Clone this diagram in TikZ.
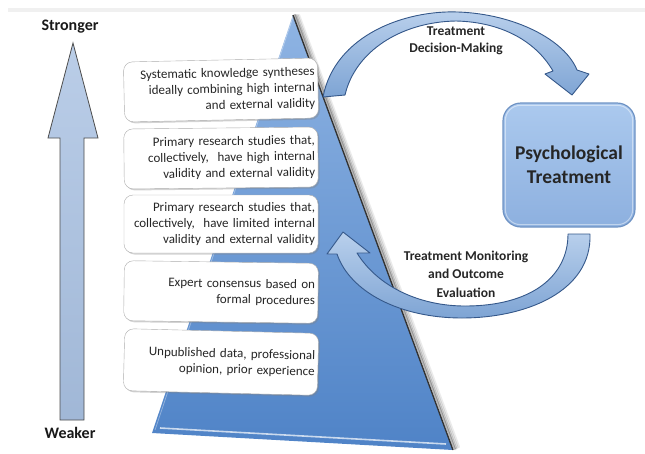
\documentclass[tikz,border=0pt]{standalone}
\usepackage{fontspec}
\setmainfont{Carlito}
\usetikzlibrary{shadows,calc}
\definecolor{pyrtop}{HTML}{8FB4E3}
\definecolor{pyrbot}{HTML}{4F83C7}
\definecolor{arrlight}{HTML}{B9D0EC}
\definecolor{arrdark}{HTML}{7EA4D4}
\definecolor{arredge}{HTML}{35588A}
\definecolor{bigarrow}{HTML}{A9C1E2}
\definecolor{psytop}{HTML}{ABC9EE}
\definecolor{psybot}{HTML}{8DB0DF}
\definecolor{psyedge}{HTML}{6F93C4}
\begin{document}
\begin{tikzpicture}[x=1pt,y=-1pt,
  evbox/.style={draw=gray!65, fill=white, rounded corners=9pt,
    minimum width=194pt, minimum height=60pt, text width=188pt,
    align=right, inner sep=0pt,
    font=\fontsize{13}{16}\selectfont, text=black!85,
    drop shadow={opacity=0.35, shadow xshift=1.5pt, shadow yshift=-1.5pt}},
  lbl/.style={font=\bfseries\fontsize{13.5}{16.5}\selectfont, align=center, text=black!85},
  endlbl/.style={font=\bfseries\fontsize{16}{18}\selectfont, text=black!90},
  psy/.style={draw=psyedge, line width=1.2pt, rounded corners=18pt,
    top color=psytop, bottom color=psybot,
    minimum width=132pt, minimum height=124pt, align=center,
    font=\bfseries\fontsize{19.5}{24}\selectfont, text=black!85},
  blockarrow/.style={draw=arredge, line width=0.9pt, line join=round,
    top color=arrlight, bottom color=arrdark}
]
\useasboundingbox (0,0) rectangle (645,453);

% faint top rule
\fill[gray!12] (8,8) rectangle (645,12);

% strength scale on the left
\node[endlbl] (strong) at (70,27) {Stronger};
\node[endlbl] (weak) at (70,433) {Weaker};
\draw[draw=black!70, line width=0.8pt, top color=bigarrow!80!white,
    bottom color=bigarrow!95!black, line join=miter]
  (60,420) -- (60,138) -- (48,138) -- (73,43) -- (98,138) -- (84,138)
  -- (84,420) -- cycle;

% evidence pyramid: soft shadow on the right edge, then the face
\foreach \o/\a in {6/0.08,4.5/0.12,3/0.18,1.8/0.28}
  \draw[black, opacity=\a, line width=2.2pt, line cap=round]
    ($(293,15)+(\o,0)$) -- ($(453,450)+(\o,-0.5*\o)$);
\shade[top color=pyrtop, bottom color=pyrbot]
  (293,15) -- (453,450) -- (152,433) -- cycle;
\draw[black!80, line width=1.4pt] (293,15) -- (453,450);
\draw[white, opacity=0.7, line width=1.6pt] (160,428) -- (446,444);
\draw[white, opacity=0.35, line width=0.8pt] (293,17) -- (155,430);

% evidence levels, strongest at the top
\node[evbox, rotate=1.2] (e1) at (221,90)
  {Systematic knowledge syntheses\\ideally combining high internal\\and external validity};
\node[evbox, rotate=0.6] (e2) at (221,158)
  {Primary research studies that,\\collectively,\ \ have high internal\\validity and external validity};
\node[evbox, minimum height=58pt] (e3) at (221,224)
  {Primary research studies that,\\collectively,\ \ have limited internal\\validity and external validity};
\node[evbox, rotate=-0.8] (e4) at (221,292)
  {Expert consensus based on\\formal procedures};
\node[evbox, rotate=-1.4, minimum height=62pt] (e5) at (221,362)
  {Unpublished data, professional\\opinion, prior experience};

% treatment box
\node[psy] (pt) at (569,165) {Psychological\\Treatment};
\draw[white, opacity=0.45, line width=1pt, rounded corners=15pt]
  ($(pt.south west)+(3,-3)$) rectangle ($(pt.north east)+(-3,3)$);

% decision-making arrow, pyramid to treatment
\path[blockarrow]
  (323,97) .. controls (335,35) and (405,10) .. (458,12)
  .. controls (515,14) and (565,40) .. (577,70)
  -- (589,74) -- (572,95) -- (545,74) -- (553,71)
  .. controls (535,40) and (500,22) .. (456,21)
  .. controls (400,22) and (355,52) .. (345,95) -- cycle;
\node[lbl] (tdm) at (456,41) {Treatment\\Decision-Making};

% monitoring arrow, treatment back to the evidence
\path[blockarrow]
  (590,234) .. controls (592,292) and (525,318) .. (462,318)
  .. controls (400,318) and (350,292) .. (337,254)
  -- (327,254) -- (343,232) -- (370,253) -- (357,253)
  .. controls (378,287) and (420,306) .. (465,306)
  .. controls (532,306) and (568,276) .. (568,234) -- cycle;
\node[lbl, font=\bfseries\fontsize{13.5}{18.5}\selectfont] (tmo) at (466,274)
  {Treatment Monitoring\\and Outcome\\Evaluation};
\end{tikzpicture}
\end{document}
